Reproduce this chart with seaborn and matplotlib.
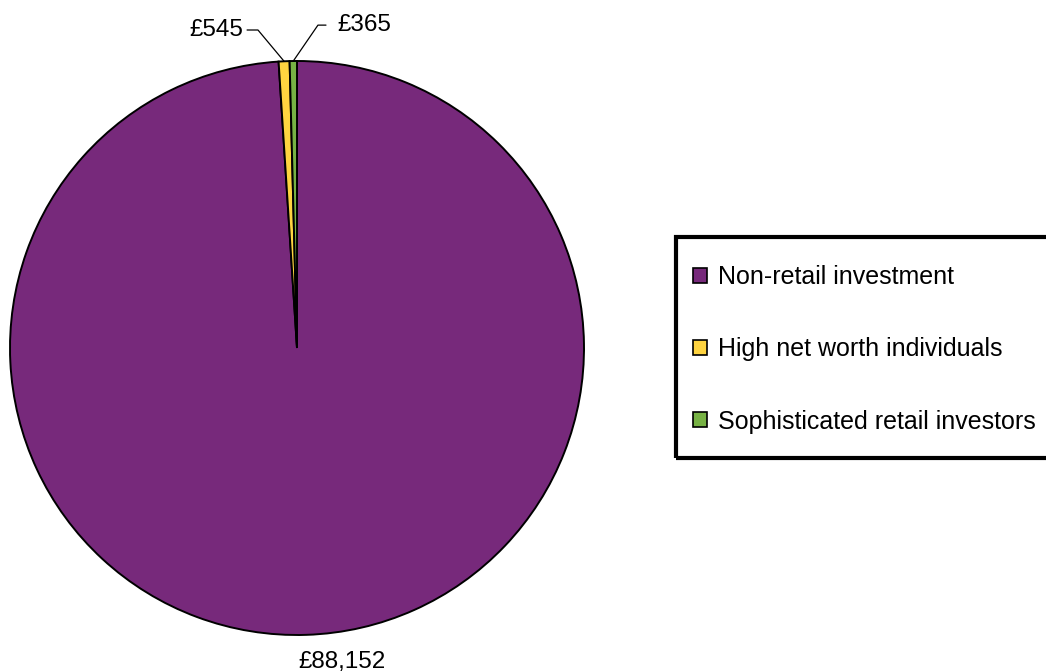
import numpy as np
import matplotlib
matplotlib.use("Agg")
import matplotlib.pyplot as plt
from matplotlib.patches import Rectangle
import seaborn as sns

categories = ["Non-retail investment", "High net worth individuals", "Sophisticated retail investors"]
values = [88152, 545, 365]
value_labels = ["£88,152", "£545", "£365"]
colors = ["#77297B", "#FFD440", "#77B244"]


def wedge_point(theta1, theta2, r=1.0):
    mid = np.deg2rad((theta1 + theta2) / 2)
    return r * np.cos(mid), r * np.sin(mid)


def plot_pie(output_file):
    sns.set_theme(style="white")
    plt.rcParams["font.family"] = ["Liberation Sans", "DejaVu Sans"]
    plt.rcParams["text.color"] = "black"

    fig = plt.figure(figsize=(10.46, 6.72), dpi=100)
    # pie centre at (297, 348) px, radius 287 px
    half = 300
    ax = fig.add_axes([(297 - half) / 1046, (672 - 348 - half) / 672, 2 * half / 1046, 2 * half / 672])

    wedges, _ = ax.pie(
        values,
        colors=colors,
        startangle=90,
        counterclock=False,
        wedgeprops=dict(edgecolor="black", linewidth=1.4),
    )
    lim = half / 287
    ax.set_xlim(-lim, lim)
    ax.set_ylim(-lim, lim)
    ax.set_aspect("equal")
    ax.axis("off")

    # label for the big slice
    ax.text(0.157, -1.095, value_labels[0], ha="center", va="center", fontsize=17.5)

    # labels with leader lines for the thin slices
    w = wedges[1]
    px, py = wedge_point(w.theta1, w.theta2)
    ax.plot([-0.174, -0.136, px], [1.108, 1.108, py], color="black", lw=0.9, clip_on=False)
    ax.text(-0.188, 1.108, value_labels[1], ha="right", va="center", fontsize=17.5)

    w = wedges[2]
    px, py = wedge_point(w.theta1, w.theta2)
    ax.plot([0.101, 0.073, px], [1.125, 1.125, py], color="black", lw=0.9, clip_on=False)
    ax.text(0.139, 1.125, value_labels[2], ha="left", va="center", fontsize=17.5)

    # legend frame runs past the right edge of the figure
    frame = Rectangle((676 / 1046, 1 - 458 / 672), 420 / 1046, 221 / 672,
                      transform=fig.transFigure, fill=False, edgecolor="black", linewidth=3)
    fig.patches.append(frame)

    leg = fig.legend(
        wedges,
        categories,
        loc="upper left",
        bbox_to_anchor=(693 / 1046, 1 - 265 / 672),
        frameon=False,
        fontsize=18,
        handlelength=0.56,
        handleheight=0.56,
        handletextpad=0.44,
        labelspacing=1.93,
        borderpad=0,
        borderaxespad=0,
    )
    for h in leg.legend_handles:
        h.set_linewidth(1.2)

    fig.savefig(output_file, dpi=100)
    plt.close(fig)


def main():
    plot_pie("out.png")


if __name__ == "__main__":
    main()
